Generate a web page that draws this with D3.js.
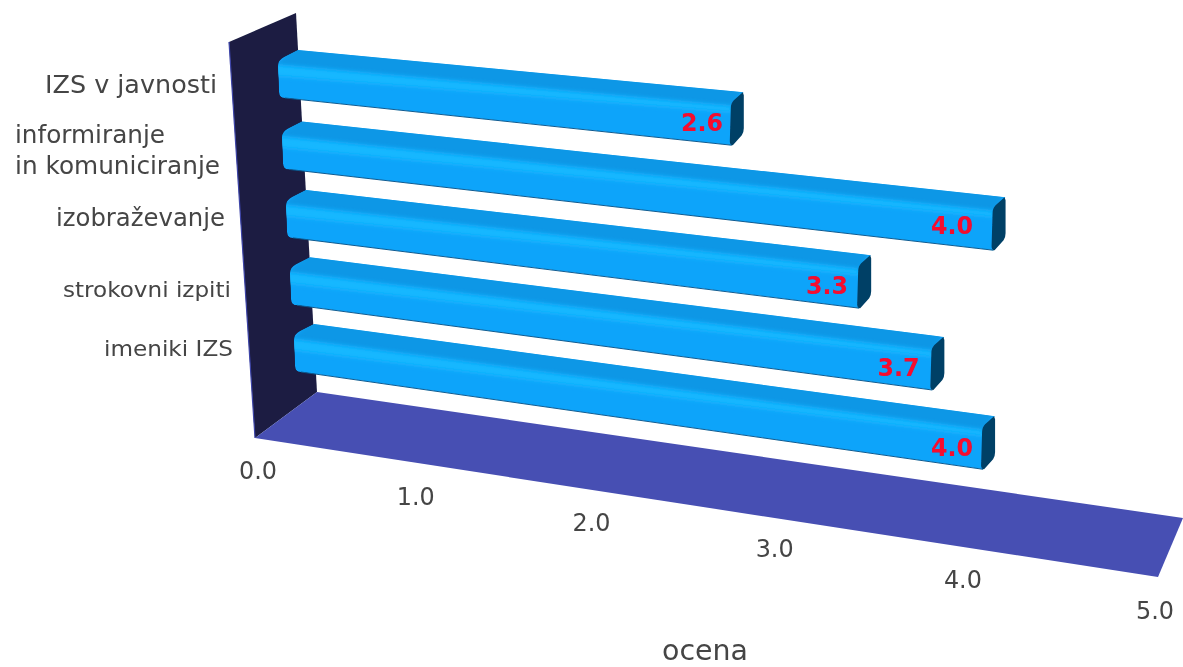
<!DOCTYPE html>
<html>
<head>
<meta charset="utf-8">
<script src="https://cdn.jsdelivr.net/npm/d3@7"></script>
<style>
  body { margin: 0; background: #fff; }
  text { font-family: "DejaVu Sans", sans-serif; fill: #454545; }
</style>
</head>
<body>
<script>
const categories = ["IZS v javnosti", "informiranje in komuniciranje", "izobraževanje", "strokovni izpiti", "imeniki IZS"]
const values = [2.6, 4.09, 3.29, 3.69, 3.96]
const valueLabels = ["2.6", "4.0", "3.3", "3.7", "4.0"]
const ticks = [0, 1, 2, 3, 4, 5]

const w = 1183, h = 667

const svg = d3.select("body").append("svg")
  .attr("width", w)
  .attr("height", h)
  .style("display", "block")

const defs = svg.append("defs")
defs.append("filter").attr("id", "soft")
  .append("feGaussianBlur").attr("stdDeviation", 0.6)
defs.append("filter").attr("id", "textsoft")
  .append("feGaussianBlur").attr("stdDeviation", 0.35)
defs.append("filter").attr("id", "band")
  .attr("x", "-5%").attr("width", "110%").attr("y", "-30%").attr("height", "160%")
  .append("feGaussianBlur").attr("stdDeviation", 2.2)

// scales
const rowIndex = d3.scalePoint().domain(categories).range([0, 4])
const valueX = d3.scaleLinear().domain([0, 5]).range([0, 865])
const rowX = d3.scaleLinear().domain([0, 4]).range([281, 297])
const rowY = d3.scalePow().exponent(0.97).domain([0, 4]).range([98, 372])
const rowSlope = d3.scaleLinear().domain([0, 4]).range([0.105, 0.142])

// floor edges, front and back
const frontX = d3.scaleLinear().domain([0, 5]).range([255, 1158])
const frontY = d3.scaleLinear().domain([0, 5]).range([438, 577])
const backX = d3.scaleLinear().domain([0, 5]).range([317, 1183])
const backY = d3.scaleLinear().domain([0, 5]).range([392, 518])

// tick labels spread out toward the viewer
const tickX = d3.scalePow().exponent(1.08).domain([0, 5]).range([258, 1155])
const tickY = d3.scaleLinear().domain([0, 3, 5]).range([479, 557, 619])

// value labels line up by their printed value
const labelX = d3.scaleLinear().domain([2.6, 4]).range([723, 973])

// wall
svg.append("polygon")
  .attr("points", [[229, 42], [296, 13], [317, 392], [255, 438]].join(" "))
  .attr("fill", "#1a1c42")
  .attr("filter", "url(#soft)")
svg.append("line")
  .attr("x1", 229).attr("y1", 42).attr("x2", 255).attr("y2", 438)
  .attr("stroke", "#3d44a8").attr("stroke-width", 1.2)

// floor
svg.append("polygon")
  .attr("points", [
    [frontX(0), frontY(0)], [backX(0), backY(0)],
    [backX(5), backY(5)], [frontX(5), frontY(5)]
  ].join(" "))
  .attr("fill", "#474fb3")
  .attr("filter", "url(#soft)")

// bars
categories.forEach((c, i) => {
  const v = values[i]
  const r = rowIndex(c)
  const p = (val, ox, oy) => {
    const dx = valueX(val)
    return [rowX(r) + dx + ox, rowY(r) + dx * rowSlope(r) + oy]
  }
  const outer = svg.append("g").attr("filter", "url(#soft)")

  // silhouette with rounded near corners
  const a = d3.path()
  a.moveTo(...p(0, 4, 0))
  a.quadraticCurveTo(...p(0, -2, 0), ...p(0, -2, -6))
  a.lineTo(...p(0, -3, -32))
  a.quadraticCurveTo(...p(0, -3, -38), ...p(0, 3, -41))
  a.lineTo(...p(0, 17, -48))
  a.lineTo(...p(v, 13, -53))
  a.lineTo(...p(v, 1, -40))
  a.lineTo(...p(v, 1, 0))
  a.closePath()

  defs.append("clipPath").attr("id", "bar" + i)
    .append("path").attr("d", a.toString())

  const g = outer.append("g").attr("clip-path", "url(#bar" + i + ")")
  g.append("path").attr("d", a.toString()).attr("fill", "#10a4fa")

  const poly = (pts, fill) => g.append("polygon")
    .attr("points", pts.join(" "))
    .attr("fill", fill)
    .attr("filter", "url(#band)")

  // top bevel and highlight strip
  poly([p(0, 17, -52), p(v, 13, -57), p(v, 1, -39), p(0, -6, -33)], "#0f97e6")
  poly([p(0, -6, -33), p(v, 1, -39), p(v, 1, -33), p(0, -6, -22)], "#13b8ff")

  // dark lower edge
  outer.append("line")
    .attr("x1", p(0, 4, 0)[0]).attr("y1", p(0, 4, 0)[1])
    .attr("x2", p(v, 1, 0)[0]).attr("y2", p(v, 1, 0)[1])
    .attr("stroke", "#0a5a90").attr("stroke-width", 1)

  // end cap
  const e = d3.path()
  e.moveTo(...p(v, 12, -53))
  e.lineTo(...p(v, 3, -45))
  e.quadraticCurveTo(...p(v, 0, -42), ...p(v, 0, -37))
  e.lineTo(...p(v, -1, -4))
  e.quadraticCurveTo(...p(v, -1, 0), ...p(v, 2, 0))
  e.lineTo(...p(v, 11, -10))
  e.quadraticCurveTo(...p(v, 13, -13), ...p(v, 13, -17))
  e.lineTo(...p(v, 13, -50))
  e.closePath()
  outer.append("path").attr("d", e.toString()).attr("fill", "#053f66")

  // value label
  const printed = +valueLabels[i]
  svg.append("text")
    .attr("x", labelX(printed) - 42)
    .attr("y", p(printed, 0, -14)[1])
    .attr("textLength", 42)
    .attr("lengthAdjust", "spacingAndGlyphs")
    .attr("filter", "url(#textsoft)")
    .style("font-size", "24px")
    .style("font-weight", "bold")
    .style("fill", "#f5082e")
    .text(valueLabels[i])
})

// category labels, stretched like the original
const labelStyle = [
  { x: 45, y: 93, size: 25, len: 172, text: "IZS v javnosti" },
  { x: 15, y: 143, size: 25, len: 150, text: "informiranje" },
  { x: 15, y: 174, size: 25, len: 205, text: "in komuniciranje" },
  { x: 56, y: 226, size: 25, len: 169, text: "izobraževanje" },
  { x: 63, y: 297, size: 22, len: 168, text: "strokovni izpiti" },
  { x: 104, y: 356, size: 22, len: 129, text: "imeniki IZS" }
]
labelStyle.forEach(l => {
  svg.append("text")
    .attr("x", l.x)
    .attr("y", l.y)
    .attr("textLength", l.len)
    .attr("lengthAdjust", "spacingAndGlyphs")
    .attr("filter", "url(#textsoft)")
    .style("font-size", l.size + "px")
    .text(l.text)
})

// axis tick labels
svg.selectAll(".tick-label")
  .data(ticks)
  .enter()
  .append("text")
  .attr("class", "tick-label")
  .attr("x", d => tickX(d) - 19)
  .attr("y", d => tickY(d))
  .attr("textLength", 38)
  .attr("lengthAdjust", "spacingAndGlyphs")
  .attr("filter", "url(#textsoft)")
  .style("font-size", "24px")
  .text(d => d.toFixed(1))

svg.append("text")
  .attr("x", 662)
  .attr("y", 660)
  .attr("textLength", 86)
  .attr("lengthAdjust", "spacingAndGlyphs")
  .attr("filter", "url(#textsoft)")
  .style("font-size", "28px")
  .text("ocena")
</script>
</body>
</html>
